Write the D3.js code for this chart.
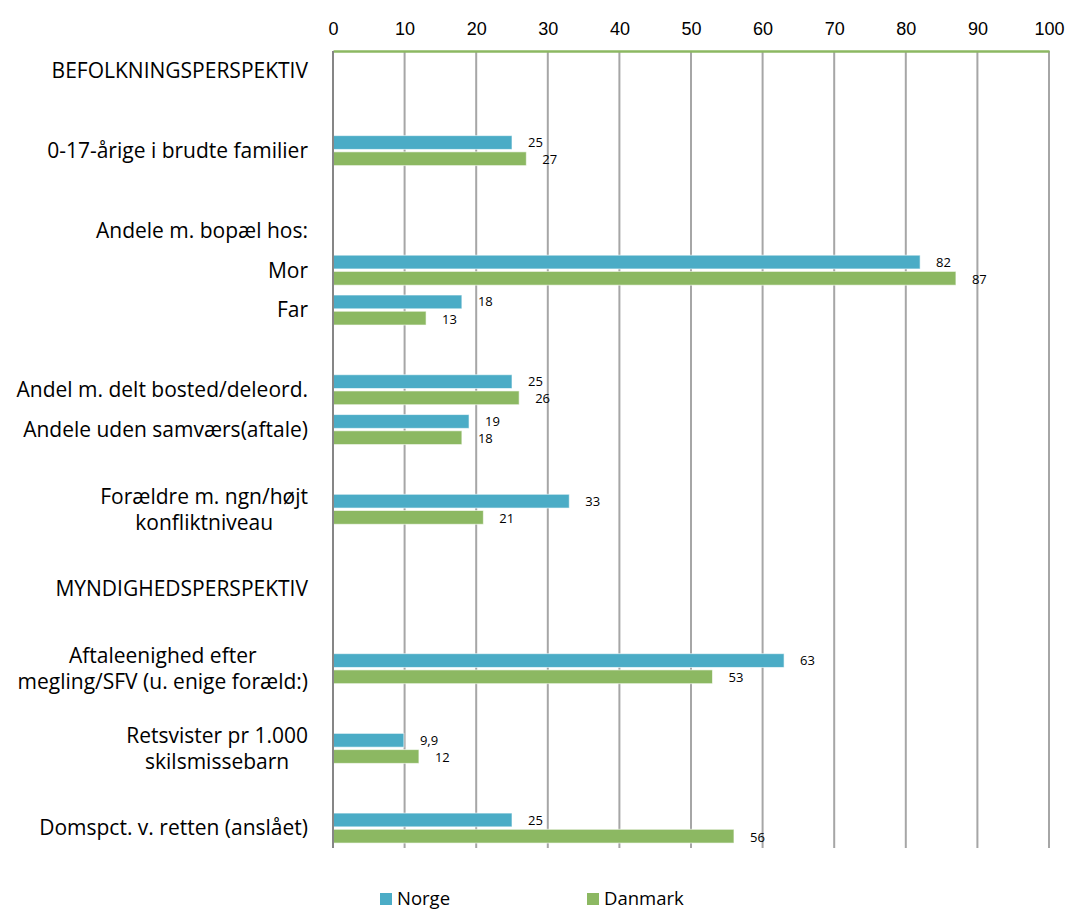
<!DOCTYPE html>
<html>
<head>
<meta charset="utf-8">
<script src="https://cdn.jsdelivr.net/npm/d3@7"></script>
<style>
  body { margin: 0; background: #fff; }
  svg { font-family: "Open Sans", "Noto Sans", sans-serif; }
  .grid line { stroke: #a6a6a6; stroke-width: 2; }
  .axis text { font-size: 18px; fill: #000; }
  .cat { font-size: 21px; fill: #000; }
  .val { font-size: 13px; fill: #000; }
  .legend text { font-size: 18.5px; fill: #000; }
</style>
</head>
<body>
<div id="chart"></div>
<script>
// kategorier (tomme rækker = mellemrum), linjeskift med "|"
var categories = [
  'BEFOLKNINGSPERSPEKTIV', '', '0-17-årige i brudte familier', '',
  'Andele m. bopæl hos:', 'Mor', 'Far', '',
  'Andel m. delt bosted/deleord.', 'Andele uden samværs(aftale)', '',
  'Forældre m. ngn/højt|konfliktniveau', '', 'MYNDIGHEDSPERSPEKTIV', '',
  'Aftaleenighed efter|megling/SFV (u. enige foræld:)', '',
  'Retsvister pr 1.000|skilsmissebarn', '', 'Domspct. v. retten (anslået)'
];
// null = ingen søjle
var norge   = [null, null, 25, null, null, 82, 18, null, 25, 19, null, 33, null, null, null, 63, null, 9.9, null, 25];
var danmark = [null, null, 27, null, null, 87, 13, null, 26, 18, null, 21, null, null, null, 53, null, 12, null, 56];
var seriesNames = ['Norge', 'Danmark'];
var xTicks = [0, 10, 20, 30, 40, 50, 60, 70, 80, 90, 100];

var width = 1068, height = 910;
var margin = { top: 51, left: 333, right: 19, bottom: 62 };

var svg = d3.select('#chart').append('svg')
  .attr('width', width)
  .attr('height', height);

var x = d3.scaleLinear().domain([0, 100]).range([margin.left, width - margin.right]);
var y = d3.scaleBand()
  .domain(d3.range(categories.length))
  .range([margin.top, height - margin.bottom]);
var y1 = d3.scaleBand().domain(seriesNames).range([y.bandwidth() / 2 - 15, y.bandwidth() / 2 + 15]).paddingInner(0.15);
var color = d3.scaleOrdinal().domain(seriesNames).range(['#4bacc6', '#8cb862']);

var fmt = function (v) { return String(v).replace('.', ','); };

// gitterlinjer
var grid = svg.append('g').classed('grid', true);
grid.selectAll('line')
  .data(xTicks.slice(1))
  .enter()
  .append('line')
  .attr('x1', function (d) { return x(d); })
  .attr('x2', function (d) { return x(d); })
  .attr('y1', margin.top)
  .attr('y2', height - margin.bottom);

// akse øverst
var axis = svg.append('g')
  .classed('axis', true)
  .attr('transform', 'translate(0,' + margin.top + ')')
  .call(d3.axisTop(x).tickValues(xTicks).tickSize(0).tickPadding(16));
axis.select('.domain').attr('stroke', '#8cb862').attr('stroke-width', 2.5);

// søjler
var rows = categories.map(function (c, i) {
  return { i: i, values: [norge[i], danmark[i]] };
});
var groups = svg.append('g').classed('bars', true)
  .selectAll('g')
  .data(rows)
  .enter()
  .append('g')
  .attr('transform', function (d) { return 'translate(0,' + y(d.i) + ')'; });

function barData(d) {
  return seriesNames.map(function (s, k) { return { key: s, value: d.values[k] }; })
    .filter(function (e) { return e.value != null; });
}

groups.selectAll('rect')
  .data(barData)
  .enter()
  .append('rect')
  .attr('x', x(0))
  .attr('y', function (d) { return y1(d.key); })
  .attr('width', function (d) { return x(d.value) - x(0); })
  .attr('height', y1.bandwidth())
  .attr('fill', function (d) { return color(d.key); })
  .attr('stroke', '#ffffff')
  .attr('stroke-opacity', 0.6)
  .attr('stroke-width', 1);

groups.selectAll('text.val')
  .data(barData)
  .enter()
  .append('text')
  .classed('val', true)
  .attr('x', function (d) { return x(d.value) + 16; })
  .attr('y', function (d) { return y1(d.key) + y1.bandwidth() / 2 + (d.key === 'Norge' ? 0 : 1); })
  .attr('dy', '0.35em')
  .text(function (d) { return fmt(d.value); });

// nul-akse
svg.append('line')
  .attr('x1', x(0)).attr('x2', x(0))
  .attr('y1', margin.top).attr('y2', height - margin.bottom)
  .attr('stroke', '#868686').attr('stroke-width', 2);

// kategorietiketter
var labelRight = 308;
var cats = svg.append('g').selectAll('text')
  .data(categories.map(function (c, i) { return { i: i, lines: c ? c.split('|') : [] }; }))
  .enter()
  .append('text')
  .classed('cat', true)
  .attr('y', function (d) { return y(d.i) + y.bandwidth() / 2; });

cats.each(function (d) {
  var t = d3.select(this);
  var n = d.lines.length;
  d.lines.forEach(function (l, k) {
    t.append('tspan')
      .attr('dy', k === 0 ? ((0.35 - (n - 1) * 0.62) + 'em') : '1.24em')
      .text(l);
  });
  if (n <= 1) {
    t.attr('text-anchor', 'end').selectAll('tspan').attr('x', labelRight);
  } else {
    // centrér linjerne indbyrdes, højrejustér blokken
    var w = d3.max(t.selectAll('tspan').nodes(), function (n) { return n.getComputedTextLength(); });
    t.attr('text-anchor', 'middle').selectAll('tspan').attr('x', labelRight - w / 2);
  }
});

// forklaring
var legend = svg.append('g').classed('legend', true)
  .selectAll('g')
  .data(seriesNames)
  .enter()
  .append('g')
  .attr('transform', function (d, i) { return 'translate(' + (380 + i * 207) + ',893)'; });
legend.append('rect')
  .attr('width', 12).attr('height', 12)
  .attr('fill', function (d) { return color(d); });
legend.append('text')
  .attr('x', 17).attr('y', 6).attr('dy', '0.35em')
  .text(function (d) { return d; });
</script>
</body>
</html>
